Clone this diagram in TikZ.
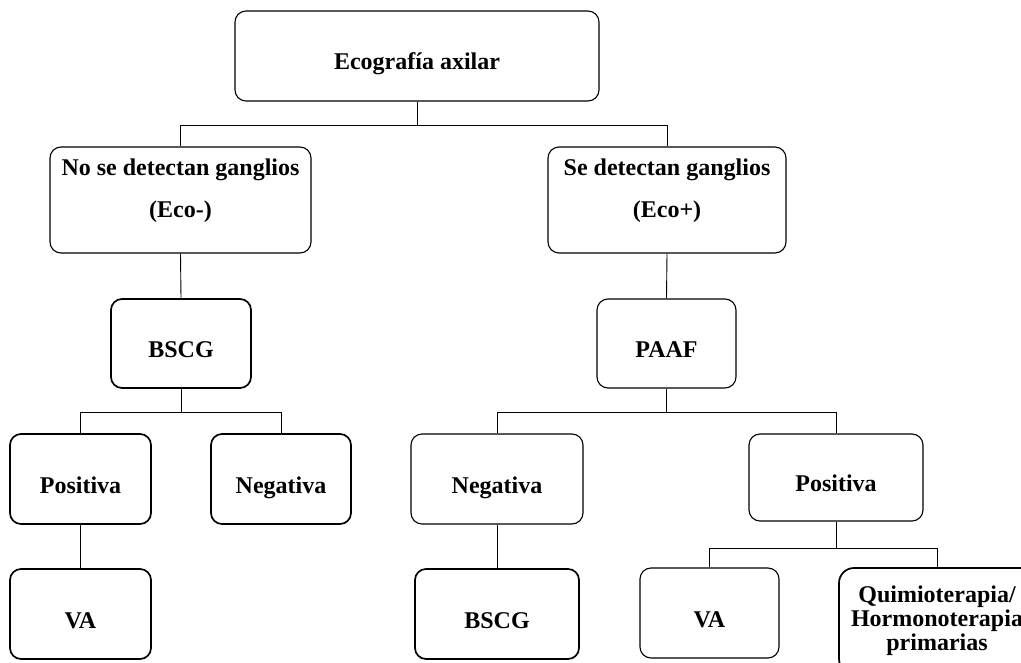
\documentclass[tikz,border=0pt]{standalone}
\usepackage{fontspec}
\setmainfont{Liberation Serif}
\begin{document}
\begin{tikzpicture}[x=1pt,y=-1pt,
  box/.style={draw, rounded corners=11pt, line width=1.1pt, inner sep=0pt,
    font=\bfseries\fontsize{24}{29}\selectfont, text height=30pt, text depth=2pt},
  heavybox/.style={box, line width=1.7pt},
  txt/.style={inner sep=0pt, anchor=base, font=\bfseries\fontsize{24}{29}\selectfont},
  link/.style={draw, line width=0.9pt}]
\useasboundingbox (0,0) rectangle (1021,663);
\clip (0,0) rectangle (1021,663);

% boxes
\node[box, minimum width=364pt, minimum height=90pt] (eco) at (417,56) {Ecografía axilar};
\node[box, minimum width=261pt, minimum height=106pt] (neg) at (180.5,200) {};
\node[txt] (negA1) at ([yshift=24pt]neg.center) {No se detectan ganglios};
\node[txt] (negA2) at ([yshift=-18pt]neg.center) {(Eco-)};
\node[box, minimum width=238pt, minimum height=106pt] (pos) at (667,200) {};
\node[txt] (posA1) at ([yshift=24pt]pos.center) {Se detectan ganglios};
\node[txt] (posA2) at ([yshift=-18pt]pos.center) {(Eco+)};

\node[heavybox, minimum width=140pt, minimum height=89pt] (bscgA) at (181,343.5) {BSCG};
\node[box, minimum width=139pt, minimum height=89pt] (paaf) at (666.5,343.5) {PAAF};

\node[heavybox, minimum width=141pt, minimum height=90pt] (posA) at (80.5,479) {Positiva};
\node[heavybox, minimum width=140pt, minimum height=90pt] (negA) at (281,479) {Negativa};
\node[box, minimum width=172pt, minimum height=90pt] (negB) at (497,479) {Negativa};
\node[box, minimum width=174pt, minimum height=87pt] (posB) at (836,477.5) {Positiva};

\node[heavybox, minimum width=141pt, minimum height=90pt] (vaA) at (80.5,614) {VA};
\node[heavybox, minimum width=164pt, minimum height=90pt] (bscgB) at (497,614) {BSCG};
\node[box, minimum width=139pt, minimum height=90pt] (vaB) at (709.5,613) {VA};
\node[heavybox, rounded corners=15pt, minimum width=196pt, minimum height=106pt] (quim) at (937,621) {};
\node[txt] (quim1) at ([yshift=19pt]quim.center) {Quimioterapia/};
\node[txt] (quim2) at ([yshift=-5.5pt]quim.center) {Hormonoterapia};
\node[txt] (quim3) at ([yshift=-29pt]quim.center) {primarias};

% connectors
\path[link] (eco.south) -- ++(0,24) -| (neg.north);
\path[link] (eco.south) ++(0,24) -| (pos.north);
\path[link] (neg.south) -- (bscgA.north);
\path[link] (pos.south) -- (paaf.north);
\path[link] (bscgA.south) -- ++(0,24) -| (posA.north);
\path[link] (bscgA.south) ++(0,24) -| (negA.north);
\path[link] (paaf.south) -- ++(0,24) -| (negB.north);
\path[link] (paaf.south) ++(0,24) -| (posB.north);
\path[link] (posA.south) -- (vaA.north);
\path[link] (negB.south) -- (bscgB.north);
\path[link] (posB.south) -- ++(0,27) -| (vaB.north);
\path[link] (posB.south) ++(0,27) -| (quim.north);
\end{tikzpicture}
\end{document}
